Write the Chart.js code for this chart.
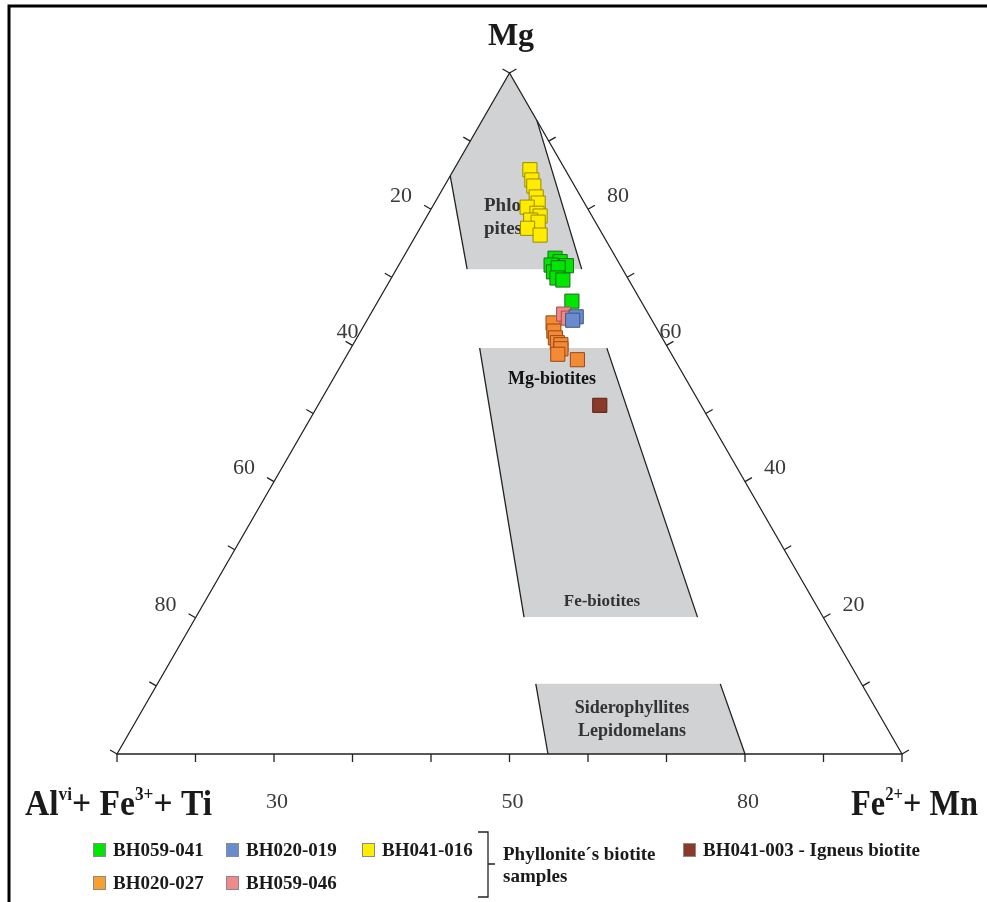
<!DOCTYPE html>
<html>
<head>
<meta charset="utf-8">
<script src="https://cdn.jsdelivr.net/npm/chart.js@4.4.0/dist/chart.umd.min.js"></script>
<style>
    html, body { margin: 0; padding: 0; background: #fff; }
    #wrap { width: 987px; height: 902px; }
</style>
</head>
<body>
<div id="wrap"><canvas id="chartCanvas" width="987" height="902"></canvas></div>
<script>
// Ternary values in %: Mg and Fe2+ + Mn (the rest is AlVI + Fe3+ + Ti)
const yellowMg = [85.8, 84.3, 83.4, 81.8, 80.9, 80.3, 79.4, 79.0, 78.4, 78.1, 77.2, 76.2];
const yellowFe = [9.7, 10.7, 11.4, 12.5, 13.2, 12.1, 13.8, 14.4, 13.5, 14.6, 13.7, 15.8];
const greenMg = [72.8, 72.3, 71.7, 71.8, 70.8, 71.4, 69.9, 69.6, 66.5];
const greenFe = [19.4, 20.3, 21.4, 19.4, 20.2, 20.5, 21.1, 22.0, 24.7];
const orangeMg = [63.3, 62.1, 61.1, 60.4, 60.1, 59.5, 58.7, 57.9];
const orangeFe = [23.9, 24.6, 25.3, 25.9, 26.5, 26.8, 26.8, 29.7];
const pinkMg = [64.6, 64.0];
const pinkFe = [24.6, 25.5];
const blueMg = [64.2, 63.7];
const blueFe = [26.4, 26.2];
const brownMg = [51.2];
const brownFe = [35.9];

// classification fields (Mg, Fe corners)
const phlogopiteMg = [100, 84.9, 71.2, 71.2, 93.0];
const phlogopiteFe = [0, 0, 9.0, 23.6, 7.0];
const biotiteMg = [59.6, 59.6, 20.1, 20.1];
const biotiteFe = [16.4, 32.6, 63.9, 41.8];
const sideroMg = [10.3, 10.3, 0, 0];
const sideroFe = [48.2, 71.7, 80.0, 54.9];

// tick labels
const tickSteps = [0, 1, 2, 3, 4, 5, 6, 7, 8, 9, 10];
const leftLabels = ['20', '40', '60', '80'];
const leftLabelSteps = [2, 4, 6, 8];
const rightLabels = ['80', '60', '40', '20'];
const rightLabelSteps = [2, 4, 6, 8];
const bottomLabels = ['30', '50', '80'];
const bottomLabelSteps = [2, 5, 8];

const H = Math.sqrt(3) / 2;
const SERIF = '"Liberation Serif", "DejaVu Serif", serif';

function toXY(mg, fe) {
    return mg.map((m, i) => ({ x: fe[i] / 100 + m / 200, y: m / 100 * H }));
}

function pix(chart, mg, fe) {
    return {
        x: chart.scales.x.getPixelForValue(fe / 100 + mg / 200),
        y: chart.scales.y.getPixelForValue(mg / 100 * H)
    };
}

function drawField(ctx, chart, mg, fe, sides) {
    ctx.beginPath();
    mg.forEach((m, i) => {
        const p = pix(chart, m, fe[i]);
        if (i === 0) ctx.moveTo(p.x, p.y); else ctx.lineTo(p.x, p.y);
    });
    ctx.closePath();
    ctx.fillStyle = '#d1d2d4';
    ctx.fill();
    ctx.strokeStyle = '#222';
    ctx.lineWidth = 1.3;
    sides.forEach(([a, b]) => {
        const p = pix(chart, mg[a], fe[a]);
        const q = pix(chart, mg[b], fe[b]);
        ctx.beginPath();
        ctx.moveTo(p.x, p.y);
        ctx.lineTo(q.x, q.y);
        ctx.stroke();
    });
}

// text with superscripts, squeezed to a width
function drawRich(ctx, parts, x, y, width, size) {
    const supSize = Math.round(size * 0.5);
    let total = 0;
    parts.forEach(p => {
        ctx.font = 'bold ' + (p.sup ? supSize : size) + 'px ' + SERIF;
        p.w = ctx.measureText(p.t).width;
        total += p.w;
    });
    ctx.save();
    ctx.translate(x, y);
    ctx.scale(width / total, 1);
    let cx = 0;
    parts.forEach(p => {
        ctx.font = 'bold ' + (p.sup ? supSize : size) + 'px ' + SERIF;
        ctx.fillText(p.t, cx, p.sup ? -size * 0.42 : 0);
        cx += p.w;
    });
    ctx.restore();
}

const ternaryPlugin = {
    id: 'ternary',
    beforeDatasetsDraw(chart) {
        const ctx = chart.ctx;
        ctx.save();

        drawField(ctx, chart, phlogopiteMg, phlogopiteFe, [[1, 2], [3, 4]]);
        drawField(ctx, chart, biotiteMg, biotiteFe, [[0, 3], [1, 2]]);
        drawField(ctx, chart, sideroMg, sideroFe, [[0, 3], [1, 2]]);

        // triangle
        const T = pix(chart, 100, 0), L = pix(chart, 0, 0), R = pix(chart, 0, 100);
        ctx.strokeStyle = '#222';
        ctx.lineWidth = 1.3;
        ctx.beginPath();
        ctx.moveTo(T.x, T.y);
        ctx.lineTo(L.x, L.y);
        ctx.lineTo(R.x, R.y);
        ctx.closePath();
        ctx.stroke();

        // ticks
        const len = 8;
        ctx.beginPath();
        tickSteps.forEach(k => {
            const f = k * 10;
            const b = pix(chart, 0, f);
            ctx.moveTo(b.x, b.y); ctx.lineTo(b.x, b.y + len);
            const l = pix(chart, 100 - f, 0);
            ctx.moveTo(l.x, l.y); ctx.lineTo(l.x - len * 0.866, l.y - len * 0.5);
            const r = pix(chart, 100 - f, f);
            ctx.moveTo(r.x, r.y); ctx.lineTo(r.x + len * 0.866, r.y - len * 0.5);
        });
        ctx.stroke();

        // tick labels
        ctx.fillStyle = '#3a3a3a';
        ctx.font = '22px ' + SERIF;
        ctx.textAlign = 'center';
        ctx.textBaseline = 'middle';
        leftLabels.forEach((t, i) => {
            const k = leftLabelSteps[i];
            const p = pix(chart, 100 - k * 10, 0);
            const dx = k === 4 ? -5 : -30;
            ctx.fillText(t, p.x + dx, p.y - 13);
        });
        rightLabels.forEach((t, i) => {
            const k = rightLabelSteps[i];
            const p = pix(chart, 100 - k * 10, k * 10);
            const dx = k === 4 ? 4 : 30;
            ctx.fillText(t, p.x + dx, p.y - 13);
        });
        bottomLabels.forEach((t, i) => {
            const p = pix(chart, 0, bottomLabelSteps[i] * 10);
            ctx.fillText(t, p.x + 3, p.y + 48);
        });

        // field names
        ctx.font = 'bold 19px ' + SERIF;
        ctx.fillStyle = '#333';
        ctx.textAlign = 'left';
        ctx.textBaseline = 'alphabetic';
        ctx.fillText('Phlogo', 484, 211);
        ctx.fillText('pites', 484, 234);
        ctx.textAlign = 'center';
        ctx.fillStyle = '#111';
        ctx.font = 'bold 18px ' + SERIF;
        ctx.fillText('Mg-biotites', 552, 384);
        ctx.fillStyle = '#333';
        ctx.font = 'bold 17px ' + SERIF;
        ctx.fillText('Fe-biotites', 602, 606);
        ctx.font = 'bold 18px ' + SERIF;
        ctx.fillText('Siderophyllites', 632, 713);
        ctx.fillText('Lepidomelans', 632, 736);
        ctx.restore();
    },
    afterDraw(chart) {
        const ctx = chart.ctx;
        ctx.save();
        ctx.fillStyle = '#1a1a1a';
        ctx.textBaseline = 'alphabetic';
        ctx.textAlign = 'left';

        // apex title
        ctx.font = 'bold 32px ' + SERIF;
        ctx.textAlign = 'center';
        ctx.fillText('Mg', 511, 45);
        ctx.textAlign = 'left';

        drawRich(ctx, [{ t: 'Al' }, { t: 'vi', sup: true }, { t: '+ Fe' }, { t: '3+', sup: true }, { t: '+ Ti' }],
            25, 815, 187, 35);
        drawRich(ctx, [{ t: 'Fe' }, { t: '2+', sup: true }, { t: '+ Mn' }], 851, 815, 127, 35);

        // legend
        const items = chart.data.datasets;
        ctx.font = 'bold 19px ' + SERIF;
        ctx.textBaseline = 'middle';
        legendPos.forEach((p, i) => {
            const ds = items[legendOrder[i]];
            ctx.fillStyle = legendColors[i];
            ctx.fillRect(p[0], p[1] - 7, 13, 14);
            ctx.strokeStyle = '#8a8a8a';
            ctx.lineWidth = 1;
            ctx.strokeRect(p[0] + 0.5, p[1] - 6.5, 12, 13);
            ctx.fillStyle = '#1a1a1a';
            ctx.fillText(ds.label, p[0] + 20, p[1] + 1);
        });
        ctx.strokeStyle = '#222';
        ctx.lineWidth = 1.3;
        ctx.beginPath();
        ctx.moveTo(478, 832); ctx.lineTo(488, 832); ctx.lineTo(488, 897); ctx.lineTo(478, 897);
        ctx.moveTo(488, 864); ctx.lineTo(495, 864);
        ctx.stroke();
        ctx.fillText('Phyllonite\u00b4s biotite', 503, 855);
        ctx.fillText('samples', 503, 877);

        // frame
        ctx.strokeStyle = '#000';
        ctx.lineWidth = 3;
        ctx.beginPath();
        ctx.moveTo(9, 902); ctx.lineTo(9, 6); ctx.lineTo(987, 6);
        ctx.stroke();
        ctx.restore();
    }
};

// legend order: green, blue, yellow, orange, pink, brown
const legendOrder = [0, 1, 2, 3, 4, 5];
const legendColors = ['#00e600', '#6a8ccc', '#ffee00', '#f6a030', '#f08a8a', '#8b3a2a'];
const legendPos = [[93, 850], [226, 850], [362, 850], [93, 883], [226, 883], [683, 850]];

function series(label, mg, fe, fill, border, order) {
    return {
        label: label,
        data: toXY(mg, fe),
        pointStyle: 'rect',
        pointRadius: 10,
        backgroundColor: fill,
        borderColor: border,
        borderWidth: 1,
        showLine: false,
        order: order,
        clip: false
    };
}

const ctx = document.getElementById('chartCanvas').getContext('2d');
new Chart(ctx, {
    type: 'scatter',
    data: {
        datasets: [
            series('BH059-041', greenMg, greenFe, '#00e600', '#1f6a1f', 4),
            series('BH020-019', blueMg, blueFe, '#6a8ccc', '#3b5686', 1),
            series('BH041-016', yellowMg, yellowFe, '#ffec00', '#998a00', 5),
            series('BH020-027', orangeMg, orangeFe, '#f28a36', '#9a4a14', 3),
            series('BH059-046', pinkMg, pinkFe, '#f08888', '#a05050', 2),
            series('BH041-003 - Igneus biotite', brownMg, brownFe, '#8b3a2a', '#5a2015', 0)
        ]
    },
    options: {
        responsive: false,
        animation: false,
        layout: { padding: { left: 117, right: 85, top: 73, bottom: 148 } },
        scales: {
            x: { type: 'linear', min: 0, max: 1, display: false },
            y: { type: 'linear', min: 0, max: H, display: false }
        },
        plugins: {
            legend: { display: false },
            tooltip: { enabled: false }
        }
    },
    plugins: [ternaryPlugin]
});
</script>
</body>
</html>
